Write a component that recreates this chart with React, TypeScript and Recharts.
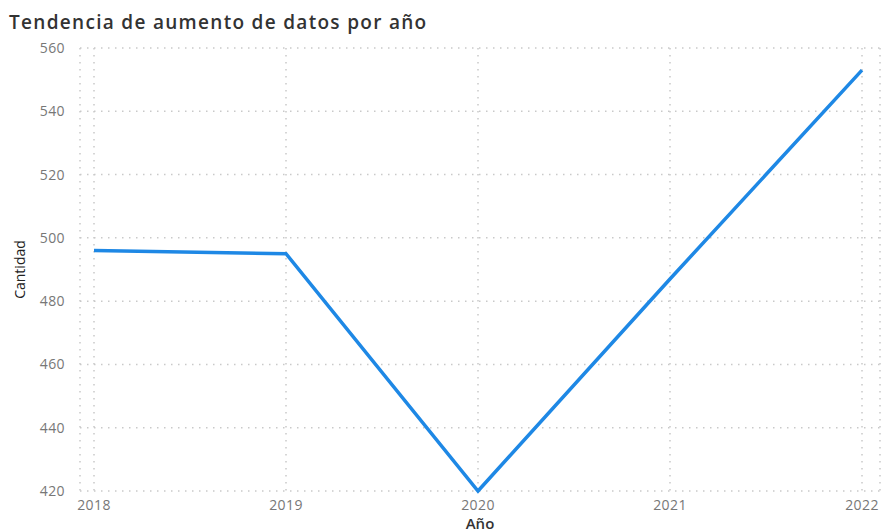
import { LineChart, Line, XAxis, YAxis, CartesianGrid } from 'recharts';

const years = ['2018', '2019', '2020', '2021', '2022'];
const cantidad = [496, 495, 420, 487, 553];
const yTicks = [420, 440, 460, 480, 500, 520, 540, 560];

const data = years.map((year, i) => ({ year, cantidad: cantidad[i] }));

const FONT = '"Open Sans", "Noto Sans", sans-serif';

export default function App() {
  return (
    <div style={{ position: 'absolute', left: 0, top: 0, width: 883, height: 532, background: '#fff', fontFamily: FONT }}>
      <div
        style={{
          position: 'absolute',
          left: 9,
          top: 9,
          fontSize: 19,
          fontWeight: 600,
          color: '#333',
          letterSpacing: 1.3,
          whiteSpace: 'nowrap',
        }}
      >
        Tendencia de aumento de datos por año
      </div>
      <LineChart width={883} height={532} data={data} margin={{ top: 48, right: 3, bottom: 0, left: 0 }}>
        <CartesianGrid stroke="#c9c9c9" strokeWidth={1.5} strokeDasharray="1.5 5.5" />
        <XAxis
          dataKey="year"
          height={41}
          axisLine={false}
          tickLine={false}
          tickSize={0}
          tickMargin={9}
          padding={{ left: 14, right: 18 }}
          tick={{ fill: '#777', fontSize: 14, fontFamily: FONT, letterSpacing: 0.4 }}
          label={{ value: 'Año', position: 'insideBottom', offset: 3, fill: '#333', fontSize: 15, fontWeight: 600, fontFamily: FONT }}
        />
        <YAxis
          width={80}
          domain={[420, 560]}
          ticks={yTicks}
          axisLine={false}
          tickLine={false}
          tickSize={0}
          tickMargin={15}
          tick={{ fill: '#777', fontSize: 14, fontFamily: FONT, letterSpacing: 0.4 }}
          label={{
            value: 'Cantidad',
            angle: -90,
            position: 'insideLeft',
            offset: 20,
            fill: '#222',
            fontSize: 14,
            fontFamily: FONT,
            style: { textAnchor: 'middle' },
          }}
        />
        <Line
          type="linear"
          dataKey="cantidad"
          stroke="#1e88e5"
          strokeWidth={3.5}
          dot={false}
          activeDot={false}
          isAnimationActive={false}
        />
      </LineChart>
    </div>
  );
}
